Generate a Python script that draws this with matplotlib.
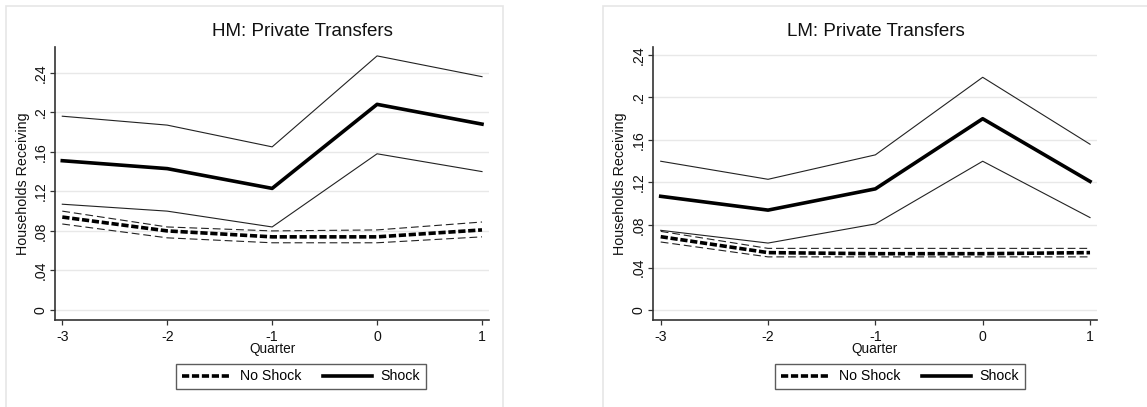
import matplotlib
matplotlib.use("Agg")
import matplotlib.pyplot as plt
from matplotlib.lines import Line2D
from matplotlib.patches import Rectangle

plt.rcParams['font.family'] = ['Liberation Sans', 'DejaVu Sans']

quarters = [-3, -2, -1, 0, 1]
yticks = [0, 0.04, 0.08, 0.12, 0.16, 0.2, 0.24]
ytick_labels = ["0", ".04", ".08", ".12", ".16", ".2", ".24"]

# HM panel
hm_shock = [0.151, 0.143, 0.123, 0.208, 0.188]
hm_shock_hi = [0.196, 0.187, 0.165, 0.257, 0.236]
hm_shock_lo = [0.107, 0.100, 0.084, 0.158, 0.140]
hm_noshock = [0.094, 0.080, 0.074, 0.074, 0.081]
hm_noshock_hi = [0.100, 0.084, 0.080, 0.081, 0.089]
hm_noshock_lo = [0.087, 0.073, 0.068, 0.068, 0.074]

# LM panel
lm_shock = [0.107, 0.094, 0.114, 0.180, 0.121]
lm_shock_hi = [0.140, 0.123, 0.146, 0.219, 0.156]
lm_shock_lo = [0.075, 0.063, 0.081, 0.140, 0.087]
lm_noshock = [0.069, 0.054, 0.053, 0.053, 0.054]
lm_noshock_hi = [0.074, 0.058, 0.058, 0.058, 0.058]
lm_noshock_lo = [0.064, 0.050, 0.050, 0.050, 0.050]

W, H = 1147, 407
fig = plt.figure(figsize=(W / 100, H / 100), dpi=100)

# panel borders
for (x0, x1) in [(6, 503), (603, 1160)]:
    fig.patches.append(Rectangle((x0 / W, -0.05), (x1 - x0) / W, 1 - 6 / H + 0.05,
                                 transform=fig.transFigure, fill=False,
                                 edgecolor='#e6e6e6', linewidth=1.2))

def make_panel(rect, ylim, xlim, title, title_x, legend_x, data):
    shock, shi, slo, ns, nhi, nlo = data
    ax = fig.add_axes(rect)
    ax.set_xlim(*xlim)
    ax.set_ylim(*ylim)
    ax.set_yticks(yticks)
    ax.set_yticklabels(ytick_labels, rotation=90, va='center')
    ax.set_xticks(quarters)
    ax.set_xticklabels([str(q) for q in quarters])
    ax.spines['top'].set_visible(False)
    ax.spines['right'].set_visible(False)
    for s in ['left', 'bottom']:
        ax.spines[s].set_color('#333333')
        ax.spines[s].set_linewidth(1.2)
    ax.tick_params(axis='both', length=3.6, width=0.9, color='#333333',
                   labelsize=10.2, labelcolor='#111111')
    ax.tick_params(axis='x', pad=3.5)
    ax.tick_params(axis='y', pad=1.5)
    ax.grid(axis='y', color='#e8e8e8', linewidth=1.0)
    ax.set_axisbelow(True)
    ax.set_ylabel("Households Receiving", fontsize=10.3, color='#111111')
    ax.yaxis.set_label_coords(-0.057, 0.5)
    ax.set_xlabel("Quarter", fontsize=9.8, color='#111111')
    ax.xaxis.set_label_coords(0.5, -0.08)

    ax.plot(quarters, nhi, color='#222222', lw=0.8, dashes=(7, 3.5))
    ax.plot(quarters, nlo, color='#222222', lw=0.8, dashes=(7, 3.5))
    ax.plot(quarters, ns, color='black', lw=2.6, dashes=(2.0, 0.75))
    ax.plot(quarters, shi, color='#222222', lw=0.8)
    ax.plot(quarters, slo, color='#222222', lw=0.8)
    ax.plot(quarters, shock, color='black', lw=2.6)

    fig.text(title_x / W, 1 - 32 / H, title, ha='center', va='center',
             fontsize=13.5, color='#111111')
    handles = [Line2D([], [], color='black', lw=2.6, dashes=(2.0, 0.75)),
               Line2D([], [], color='black', lw=2.6)]
    leg = fig.legend(handles, ["No Shock", "Shock"], ncol=2, loc='center',
                     bbox_to_anchor=(legend_x / W, 1 - 376.5 / H),
                     fontsize=10.2, frameon=True, fancybox=False,
                     handlelength=3.5, handletextpad=0.6, columnspacing=1.5,
                     borderpad=0.4, borderaxespad=0)
    leg.get_frame().set_edgecolor('#333333')
    leg.get_frame().set_linewidth(1.0)
    return ax

top_px, bot_px = 47, 320
make_panel([55 / W, 1 - bot_px / H, (489 - 55) / W, (bot_px - top_px) / H],
           (-0.0101, 0.266), (-3.0695, 1.0667),
           "HM: Private Transfers", 302, 301,
           (hm_shock, hm_shock_hi, hm_shock_lo, hm_noshock, hm_noshock_hi, hm_noshock_lo))
make_panel([652.7 / W, 1 - bot_px / H, (1097 - 652.7) / W, (bot_px - top_px) / H],
           (-0.0094, 0.2475), (-3.0746, 1.065),
           "LM: Private Transfers", 875.5, 900,
           (lm_shock, lm_shock_hi, lm_shock_lo, lm_noshock, lm_noshock_hi, lm_noshock_lo))

fig.savefig("out.png", dpi=100)
